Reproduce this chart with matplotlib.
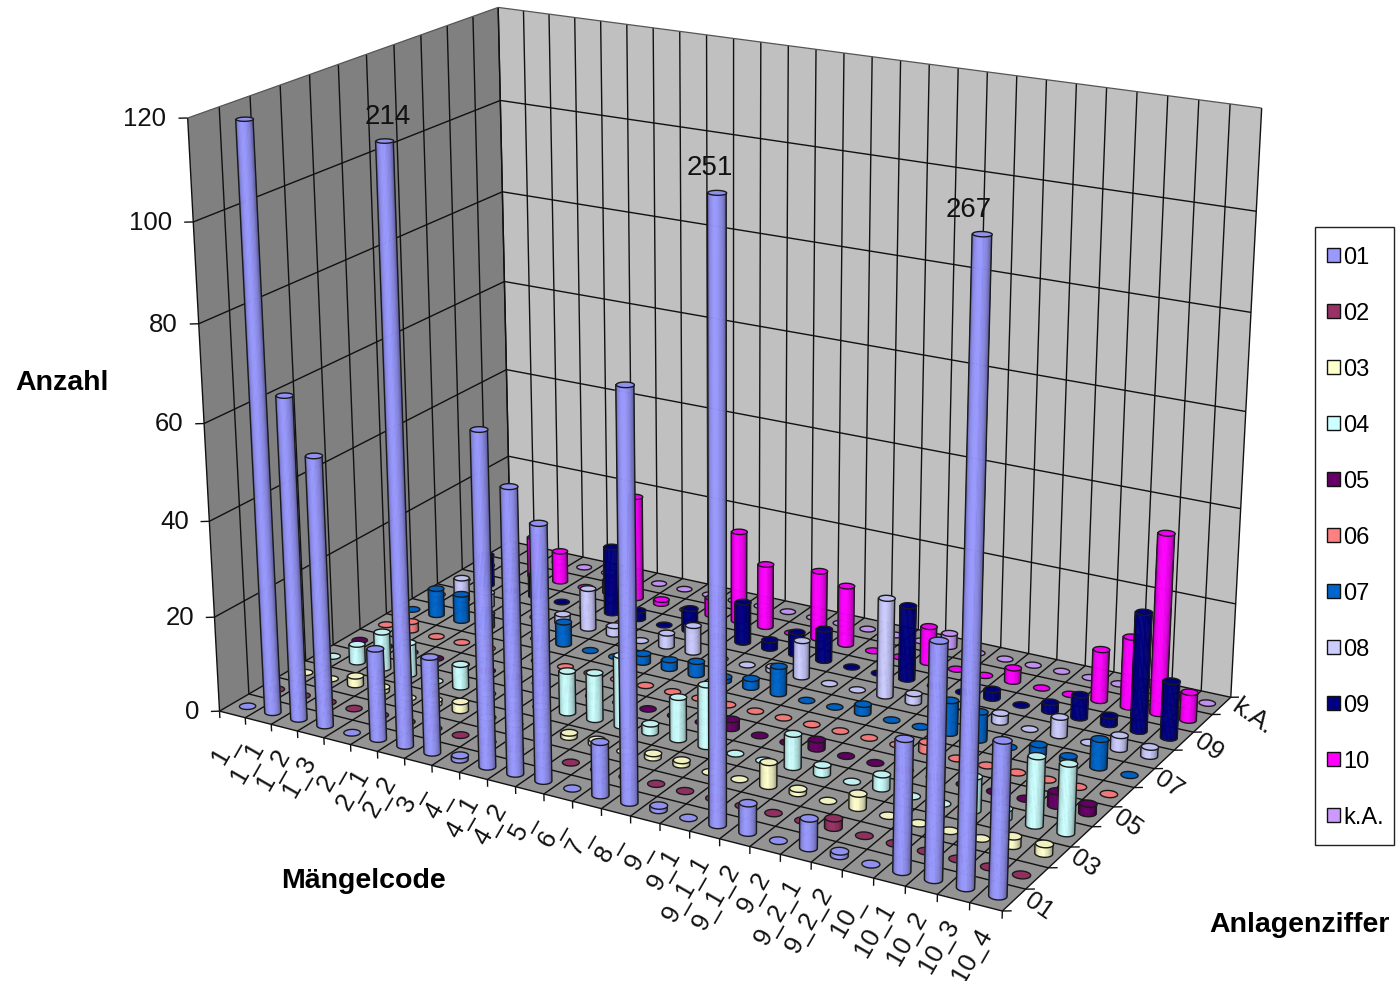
#!/usr/bin/env python3
'''3D cylinder chart: Maengel per Anlagenziffer'''

import numpy as np
import matplotlib
matplotlib.use('Agg')

import matplotlib.pyplot as plt
from matplotlib.patches import Patch, Rectangle
from mpl_toolkits.mplot3d.art3d import Poly3DCollection, Line3DCollection

plt.rcParams['font.family'] = ['Liberation Sans', 'DejaVu Sans']

categories = ['1_', '1_1', '1_2', '1_3', '2_', '2_1', '2_2', '3_', '4_', '4_1', '4_2',
              '5_', '6_', '7_', '8_', '9_', '9_1', '9_1_1', '9_1_2', '9_2', '9_2_1',
              '9_2_2', '10_', '10_1', '10_2', '10_3', '10_4']
series_names = ['01', '02', '03', '04', '05', '06', '07', '08', '09', '10', 'k.A.']
series_colors = ['#9999FF', '#993366', '#FFFFCC', '#CCFFFF', '#660066', '#FF8080',
                 '#0066CC', '#CCCCFF', '#000080', '#FF00FF', '#CC99FF']

s01 = [0, 120, 67, 56, 0, 19, 214, 20, 1, 68, 58, 52, 0, 11, 82, 1, 0, 251, 6, 0, 6, 1, 0, 26, 46, 267, 30]
s02 = [0, 0, 0, 0, 0, 0, 0, 0, 0, 0, 0, 0, 0, 0, 0, 0, 0, 0, 0, 0, 2, 0, 0, 0, 0, 0, 0]
s03 = [0, 0, 2, 1, 0, 1, 2, 0, 0, 0, 1, 1, 0, 1, 1, 0, 0, 5, 1, 0, 3, 0, 0, 0, 0, 2, 2]
s04 = [0, 4, 8, 7, 0, 5, 0, 0, 0, 9, 10, 15, 2, 9, 13, 0, 0, 7, 2, 0, 3, 0, 0, 7, 2, 14, 14]
s05 = [0, 0, 0, 0, 0, 0, 0, 0, 0, 0, 0, 0, 0, 0, 2, 0, 0, 2, 0, 0, 0, 0, 0, 0, 0, 3, 2]
s06 = [0, 2, 0, 0, 0, 0, 0, 0, 0, 0, 0, 0, 0, 0, 0, 0, 0, 0, 0, 0, 2, 0, 0, 0, 0, 0, 0]
s07 = [0, 6, 6, 3, 0, 0, 5, 0, 0, 2, 2, 3, 1, 2, 6, 0, 0, 2, 0, 0, 7, 6, 0, 2, 1, 6, 0]
s08 = [0, 5, 3, 0, 0, 2, 9, 2, 0, 3, 6, 0, 0, 1, 8, 0, 0, 21, 2, 0, 0, 2, 0, 4, 0, 3, 2]
s09 = [0, 7, 0, 5, 0, 0, 15, 2, 0, 5, 0, 9, 2, 5, 7, 0, 0, 16, 0, 0, 2, 0, 2, 5, 2, 25, 12]
s10 = [0, 0, 9, 7, 0, 3, 23, 1, 0, 4, 20, 14, 0, 15, 13, 0, 0, 8, 0, 0, 3, 0, 0, 11, 15, 38, 6]
ska = [0, 0, 0, 0, 0, 0, 0, 0, 0, 0, 0, 0, 0, 0, 0, 0, 0, 3, 0, 0, 0, 0, 0, 0, 0, 0, 0]
series_values = [s01, s02, s03, s04, s05, s06, s07, s08, s09, s10, ska]

z_ticks = [0, 20, 40, 60, 80, 100, 120]
z_max = 120
y_tick_names = ['01', '03', '05', '07', '09', 'k.A.']

# camera calibration: box corners (cat, series, value) and where they land in the image
cam_xyz = [(0, 0, 0), (27, 0, 0), (27, 11, 0), (0, 11, 0), (0, 0, 120), (0, 11, 120), (27, 11, 120),
           (0, 0, 60), (1.5, .5, 120), (6.5, .5, 120), (17.5, .5, 120), (25.5, .5, 120)]
cam_px = [(220, 712), (1002, 911), (1231, 697), (510, 541), (187, 117), (498, 8), (1262, 108),
          (204, 423), (245, 118), (385, 142), (716, 192), (982, 234)]


def fit_camera():
    rows = []
    for (x, y, z), (u, v) in zip(cam_xyz, cam_px):
        rows.append([x, y, z, 1, 0, 0, 0, 0, -u * x, -u * y, -u * z, -u])
        rows.append([0, 0, 0, 0, x, y, z, 1, -v * x, -v * y, -v * z, -v])
    P = np.linalg.svd(np.array(rows, dtype=float))[2][-1].reshape(3, 4)
    P = P / (P[2] @ np.array([13.5, 5.5, 0, 1]))
    # mplot3d wants 4x4, third row is only a depth value
    return np.vstack([P[0], P[1], [0, 0, 1e-3, 0], P[2]])


M = fit_camera()


def to_px(x, y, z):
    pts = np.stack([x, y, z, np.ones_like(x)])
    out = M @ pts
    return out[0] / out[3], out[1] / out[3]


def shade(col, f):
    return tuple(np.clip(np.array(matplotlib.colors.to_rgb(col)) * f, 0, 1))


fig = plt.figure(figsize=(13.96, 9.81), dpi=100)
ax = fig.add_axes([0, 0, 1, 1], projection='3d', computed_zorder=False)
ax.set_axis_off()
ax.patch.set_visible(False)
ax.get_proj = lambda: M
ax.apply_aspect = lambda position=None: None
ax.viewLim.intervalx = (0, 1396)
ax.viewLim.intervaly = (981, 0)

nc = len(categories)
ns = len(series_names)


def wall(verts, col, zo):
    ax.add_collection3d(Poly3DCollection([verts], facecolors=col, edgecolors='none', zorder=zo), autolim=False)


def lines(segs, col, lw, zo):
    ax.add_collection3d(Line3DCollection(segs, colors=col, linewidths=lw, zorder=zo), autolim=False)


def label(x, y, z, txt, dx=0, dy=0, **kw):
    u, v = to_px(np.float64(x), np.float64(y), np.float64(z))
    ax.text2D(u + dx, v + dy, txt, transform=ax.transData, color='#111111', zorder=900, **kw)


wall([(0, 11, 0), (nc, 11, 0), (nc, 11, z_max), (0, 11, z_max)], '#C0C0C0', 1)
wall([(0, 0, 0), (0, 11, 0), (0, 11, z_max), (0, 0, z_max)], '#808080', 1)
wall([(0, 0, 0), (nc, 0, 0), (nc, 11, 0), (0, 11, 0)], '#949494', 1)

grid = []
for c in range(nc + 1):
    grid.append([(c, 0, 0), (c, 11, 0)])
    grid.append([(c, 11, 0), (c, 11, z_max)])
    grid.append([(c, 0, 0), (c, 0, -1.5)])
for s in range(ns + 1):
    grid.append([(0, s, 0), (nc, s, 0)])
    grid.append([(0, s, 0), (0, s, z_max)])
    grid.append([(nc, s, 0), (nc + .22, s + .09, 0)])
for z in z_ticks:
    grid.append([(-.22, -.1, z), (0, 0, z)])
    if 0 < z < z_max:
        grid.append([(0, 0, z), (0, 11, z)])
        grid.append([(0, 11, z), (nc, 11, z)])
lines(grid, '#111111', 1.0, 2)
lines([[(0, 0, z_max), (0, 11, z_max)], [(0, 11, z_max), (nc, 11, z_max)]], '#555555', .9, 2)

for z in z_ticks:
    label(-.5, -.25, z, str(z), ha='right', va='center', fontsize=18.5)
for c, name in enumerate(categories):
    label(c + .5, 0, 0, name, dy=23, rotation=60, rotation_mode='anchor', ha='right', va='center', fontsize=18.5)
for i, name in enumerate(y_tick_names):
    label(nc, 2 * i + .5, 0, name, dx=13, dy=-2, rotation=-35, rotation_mode='anchor', ha='left', va='center',
          fontsize=18.5)

RX, RY = .26, .16
theta = np.linspace(0, 2 * np.pi, 41)[:-1]
shade_t = [0, .12, .3, .5, .8, 1]
shade_f = [.68, .9, 1.0, 1.0, .85, .6]

cells = []
for s, vals in enumerate(series_values):
    for c, v in enumerate(vals):
        w = M[3] @ np.array([c + .5, s + .5, 0, 1])
        cells.append((w, c, s, v))
cells.sort(key=lambda t: -t[0])

for rank, (w, c, s, v) in enumerate(cells):
    col = series_colors[s]
    h = min(v, z_max)
    xs = c + .5 + RX * np.cos(theta)
    ys = s + .5 + RY * np.sin(theta)
    zo = 10 + rank * .01
    if h > 0:
        u, vv = to_px(xs, ys, np.zeros_like(xs))
        i0 = int(np.argmin(u))
        idx = np.roll(np.arange(len(theta)), -i0)
        k = int(np.where(idx == int(np.argmax(u)))[0][0])
        arc_a = idx[:k + 1]
        arc_b = np.append(idx[k:], idx[0])[::-1]
        arc = arc_a if vv[arc_a].mean() > vv[arc_b].mean() else arc_b
        span = u.max() - u.min()
        quads, faces = [], []
        for a, b in zip(arc[:-1], arc[1:]):
            quads.append([(xs[a], ys[a], 0), (xs[b], ys[b], 0), (xs[b], ys[b], h), (xs[a], ys[a], h)])
            t = ((u[a] + u[b]) / 2 - u.min()) / span
            faces.append(shade(col, np.interp(t, shade_t, shade_f)))
        body = Poly3DCollection(quads, facecolors=faces, edgecolors=faces, linewidths=.4, zorder=zo)
        ax.add_collection3d(body, autolim=False)
        outline = [(xs[arc[0]], ys[arc[0]], h)] + [(xs[a], ys[a], 0) for a in arc] + [(xs[arc[-1]], ys[arc[-1]], h)]
        lines([outline], '#1a1a1a', 1.0, zo + .001)
    top = Poly3DCollection([list(zip(xs, ys, np.full_like(xs, h)))], facecolors=[shade(col, .94)],
                           edgecolors='#1a1a1a', linewidths=1.0, zorder=zo + .002)
    ax.add_collection3d(top, autolim=False)
    if v > z_max:
        # value above the clipped axis is written over the bar
        label(c + .5, .5, z_max, str(v), dx=(9.5 - c) * .88, dy=-24, ha='center', va='center', fontsize=20)

fig.add_artist(Rectangle((1315 / 1396, 1 - 845 / 981), 79 / 1396, 618 / 981, transform=fig.transFigure,
                         facecolor='white', edgecolor='#222222', lw=1.0, zorder=-1))
handles = [Patch(facecolor=col, edgecolor='#111111', lw=1.0, label=name)
           for col, name in zip(series_colors, series_names)]
ax.legend(handles=handles, loc='upper left', bbox_to_anchor=(1327 / 1396, 1 - 246.5 / 981),
          bbox_transform=fig.transFigure, borderaxespad=0, fontsize=17, labelspacing=1.44,
          handlelength=.55, handleheight=.55, handletextpad=.15, borderpad=0, frameon=False)

fig.text(62 / 1396, 1 - 383 / 981, 'Anzahl', ha='center', va='center', fontsize=20.5, fontweight='bold')
fig.text(364 / 1396, 1 - 881 / 981, 'Mängelcode', ha='center', va='center', fontsize=20.5, fontweight='bold')
fig.text(1299 / 1396, 1 - 925 / 981, 'Anlagenziffer', ha='center', va='center', fontsize=20.5, fontweight='bold')

plt.savefig('out.png', dpi=100)
